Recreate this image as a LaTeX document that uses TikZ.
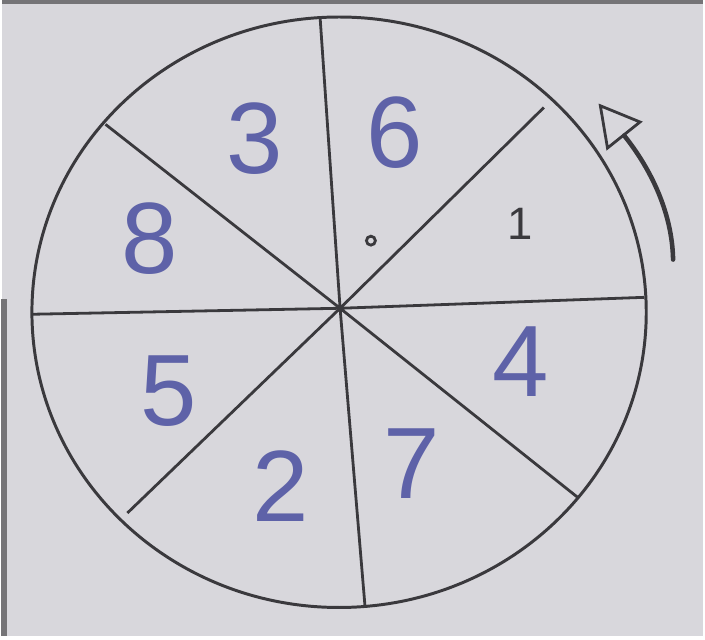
\documentclass[tikz,border=0pt]{standalone}
\usepackage{fontspec}
\setsansfont{Liberation Sans}
\usetikzlibrary{arrows.meta}
\definecolor{paper}{HTML}{D8D7DC}
\definecolor{pencil}{HTML}{3A393D}
\definecolor{inkblue}{HTML}{5E62A8}

\begin{document}
\begin{tikzpicture}[x=0.01cm, y=-0.01cm,
    rim/.style={draw=pencil, line width=0.85pt},
    spoke/.style={draw=pencil, line width=0.8pt},
    num/.style={font=\sffamily\fontsize{29}{29}\selectfont, text=inkblue, inner sep=0pt},
    small/.style={font=\sffamily\fontsize{13}{13}\selectfont, text=pencil, inner sep=0pt},
    turn/.style={draw=pencil, line width=1.3pt, line cap=round,
                 -{Triangle[open, length=0.42cm, width=0.46cm, line width=0.8pt]}},
]
    % paper
    \fill[paper] (0,0) rectangle (705,639);
    \draw[pencil!70, line width=1.2pt] (0,1) -- (705,1);
    \draw[pencil!70, line width=1.6pt] (2,300) -- (2,639);

    % === wheel ===
    \coordinate (c) at (340,309);
    \draw[rim] (339,313) ellipse [x radius=309, y radius=297];

    \coordinate (n) at (320,18);
    \coordinate (s) at (365,608);
    \coordinate (nw) at (104,124);
    \coordinate (se) at (580,500);
    \coordinate (ne) at (545,107);
    \coordinate (sw) at (126,515);
    \coordinate (w) at (31,315);
    \coordinate (e) at (646,298);

    \draw[spoke] (n) -- (c) -- (s);
    \draw[spoke] (nw) -- (c) -- (se);
    \draw[spoke] (ne) -- (c) -- (sw);
    \draw[spoke] (w) -- (c) -- (e);
    \fill[pencil] (c) circle [radius=4];

    % === numbers ===
    \node[num] (three) at (254,138) {3};
    \node[num] (six) at (395,132) {6};
    \node[num] (eight) at (148,239) {8};
    \node[small] (one) at (521,224) {1};
    \node[num] (four) at (522,363) {4};
    \node[num] (five) at (168,392) {5};
    \node[num] (two) at (280,488) {2};
    \node[num] (seven) at (412,465) {7};
    \node[draw=pencil, line width=0.8pt, circle, minimum size=0.09cm, inner sep=0pt] (dot) at (371,241) {};

    % === direction ===
    \coordinate (tail) at (675,260);
    \coordinate (head) at (600,103);
    \draw[turn] (tail) .. controls (674,212) and (652,168) .. (head);
\end{tikzpicture}
\end{document}
